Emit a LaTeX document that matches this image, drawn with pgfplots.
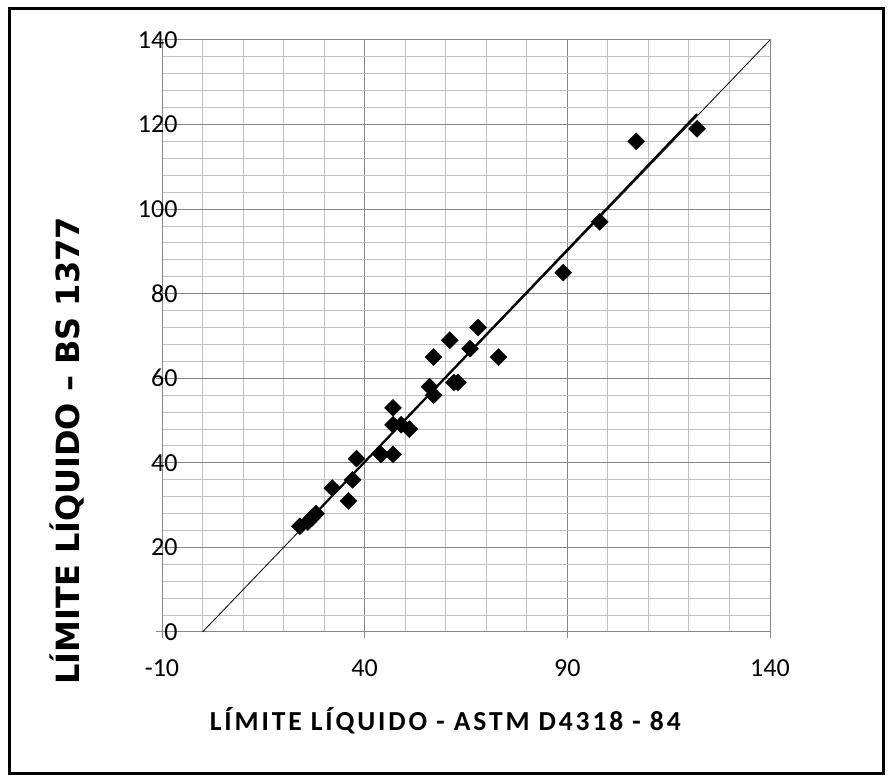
\documentclass[border=0pt]{standalone}
\usepackage{pgfplots}
\pgfplotsset{compat=1.18}
\usepackage{fontspec}
\setmainfont{Carlito}
\newfontfamily\xlabfont[LetterSpace=10.5]{Carlito}
\newfontfamily\ylabfont{DejaVu Sans}

\definecolor{majgrid}{HTML}{868686}
\definecolor{mingrid}{HTML}{BFBFBF}

\pgfplotstableread{
x y
24 25
26 26
27 27
28 28
32 34
36 31
37 36
38 41
44 42
47 42
47 53
47 49
49 49
51 48
56 58
57 56
57 65
61 69
62 59
63 59
66 67
68 72
73 65
89 85
98 97
107 116
122 119
}\limites

\begin{document}
\begin{tikzpicture}[x=1pt,y=1pt]
\path[use as bounding box] (0,0) rectangle (893,783);
\draw[line width=3pt] (9.5,9) rectangle (883.5,774);
\begin{axis}[
  at={(162pt,151pt)}, anchor=south west,
  scale only axis, width=608pt, height=592pt,
  xmin=-10, xmax=140, ymin=0, ymax=140,
  xtick={-10,40,90,140}, xticklabels={-10,40,90,140},
  minor xtick={0,10,...,130},
  ytick={0,20,...,140}, yticklabels={0,20,40,60,80,100,120,140},
  minor ytick={4,8,...,136},
  grid=both,
  major grid style={majgrid, line width=1pt},
  minor grid style={mingrid, line width=1pt},
  axis line style={majgrid, line width=1pt},
  tick pos=left, tick align=outside,
  major tick length=6pt, minor tick length=0pt,
  tick style={majgrid, line width=1pt},
  tick label style={font=\fontsize{26}{31}\selectfont},
  xticklabel style={anchor=north, yshift=-18pt},
  yticklabel style={anchor=east, xshift=25pt},
  xlabel={\xlabfont\bfseries\fontsize{27.5}{32}\selectfont LÍMITE LÍQUIDO - ASTM D4318 - 84},
  ylabel={\ylabfont\bfseries\fontsize{32}{38}\selectfont LÍMITE LÍQUIDO – BS 1377},
  xlabel style={at={(axis description cs:0.466,-0.149)}, anchor=center},
  ylabel style={at={(axis description cs:-0.156,0.306)}, anchor=center, rotate=0},
  clip=false,
]
% reference line y = x
\addplot[black, line width=0.8pt] coordinates {(0,0) (140,140)};
% linear trend of the measured pairs
\addplot[black, line width=2pt] coordinates {(24,24.2) (122,122.5)};
% measured liquid limits
\addplot[only marks, mark=square*, mark size=6pt,
  mark options={rotate=45, fill=black, draw=black}] table[x=x, y=y] {\limites};
\end{axis}
\end{tikzpicture}
\end{document}
